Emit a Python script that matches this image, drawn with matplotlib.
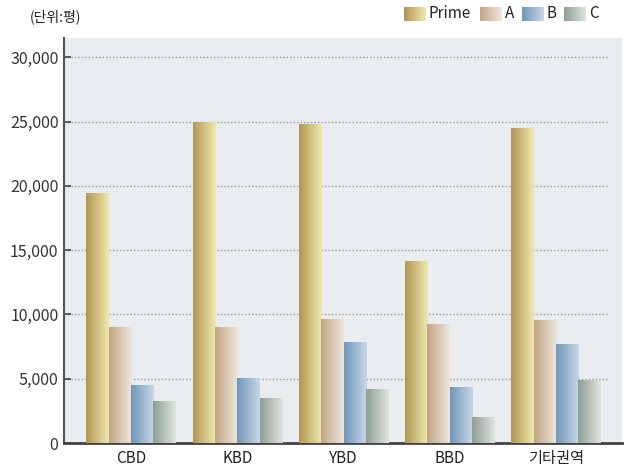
import numpy as np
import matplotlib
matplotlib.use("Agg")
import matplotlib.pyplot as plt
from matplotlib.colors import LinearSegmentedColormap

plt.rcParams['font.family'] = ['Noto Sans CJK KR', 'DejaVu Sans']

categories = ["CBD", "KBD", "YBD", "BBD", "기타권역"]
series = ["Prime", "A", "B", "C"]
prime = [19400, 24900, 24800, 14100, 24500]
grade_a = [8950, 8950, 9600, 9250, 9500]
grade_b = [4500, 5050, 7800, 4300, 7700]
grade_c = [3250, 3500, 4200, 1950, 4900]
values = [prime, grade_a, grade_b, grade_c]
yticks = [0, 5000, 10000, 15000, 20000, 25000, 30000]
unit_label = "(단위:평)"

grads = [("#b19655", "#efe9ad"),
         ("#c3a583", "#eee6dd"),
         ("#7097b9", "#c9d6e8"),
         ("#8e9f94", "#e0e4df")]
cmaps = [LinearSegmentedColormap.from_list(f"g{i}", g) for i, g in enumerate(grads)]
grad_img = np.linspace(0, 1, 64).reshape(1, -1)

fig = plt.figure(figsize=(6.24, 4.72), dpi=100)
ax = fig.add_axes([64/624, 1-443/472, (622-64)/624, (443-38)/472])
ax.set_facecolor("#e9edf0")

x = np.arange(len(categories))
w = 0.21
for si, vals in enumerate(values):
    offs = (si - 1.5) * w
    bars = ax.bar(x + offs, vals, width=w, color="none", edgecolor="none", zorder=3)
    for b in bars:
        x0, y0 = b.get_x(), b.get_y()
        ax.imshow(grad_img, cmap=cmaps[si], aspect="auto",
                  extent=[x0, x0 + b.get_width(), y0, y0 + b.get_height()],
                  zorder=3, interpolation="bilinear")

ax.set_xlim(-0.63, 4.62)
ax.set_ylim(0, 31500)
ax.set_yticks(yticks)
ax.set_yticklabels([f"{v:,}" for v in yticks], fontsize=11.5, color="#333333")
ax.set_xticks(x)
ax.set_xticklabels(categories, fontsize=11, color="#222222")
# dotted gridlines stopping short of the right edge
x_left, x_right = ax.get_xlim()
grid_end = x_left + (609 - 64) / (622 - 64) * (x_right - x_left)
ax.hlines(yticks[1:], x_left, grid_end, linestyles=(0, (1, 1.5)),
          colors="#999999", linewidth=1.0, zorder=1)
ax.tick_params(axis="y", direction="in", length=5, width=1.2, color="#444444", pad=4)
ax.tick_params(axis="x", length=0, pad=5)
for s in ["top", "right"]:
    ax.spines[s].set_visible(False)
ax.spines["left"].set_color("#555555")
ax.spines["left"].set_linewidth(1.5)
ax.spines["bottom"].set_color("#444444")
ax.spines["bottom"].set_linewidth(2)
ax.set_xlim(x_left, x_right)

fig.text(30/624, 1-17/472, unit_label, fontsize=10, va="center", ha="left", color="#222222")

# legend
lx = [404, 480, 522, 564]
for si, name in enumerate(series):
    sw = fig.add_axes([lx[si]/624, 1-21/472, 22/624, 14/472])
    sw.imshow(grad_img, cmap=cmaps[si], aspect="auto", interpolation="bilinear")
    sw.axis("off")
    fig.text((lx[si]+25)/624, 1-14/472, name, fontsize=11, va="center", ha="left", color="#222222")

fig.savefig("out.png", dpi=100)
